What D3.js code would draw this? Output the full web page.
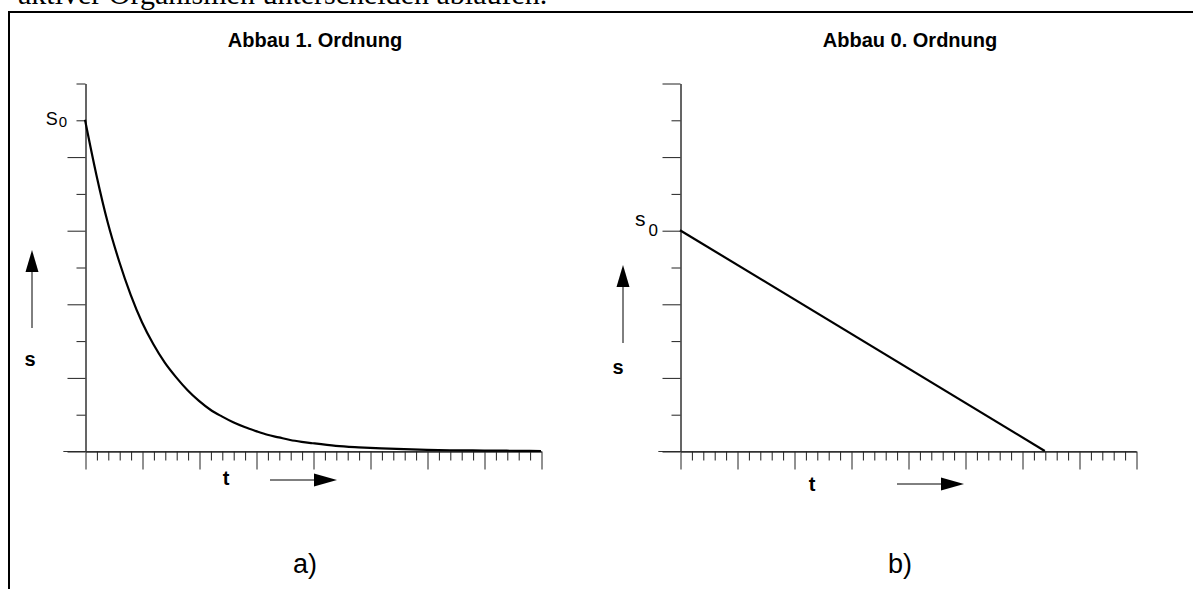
<!DOCTYPE html>
<html>
<head>
<meta charset="utf-8">
<script src="https://cdn.jsdelivr.net/npm/d3@7"></script>
<style>
  html, body { margin: 0; padding: 0; background: #fff; }
  svg { display: block; }
  text { font-family: Arial, "Liberation Sans", sans-serif; fill: #000; }
</style>
</head>
<body>
<svg id="chart" width="1193" height="589"></svg>
<script>
// ---- data ----
// time axis: 40 minor steps, every 5th one is a long tick
var timeTicks = d3.range(0, 41)
var majorTimeTicks = timeTicks.filter(d => d % 5 === 0)
var minorTimeTicks = timeTicks.filter(d => d % 5 !== 0)

// s axis: 10 tick steps
var sTicksLeftLong = [0, 2, 4, 6, 8]
var sTicksLeftShort = [1, 3, 5, 7, 9, 10]
var sTicksRightLong = [0, 2, 4, 6, 8, 10]
var sTicksRightShort = [1, 3, 5, 7, 9]

// a) first order decay, s in tick units (s0 = 9)
var firstOrderT = [0, 1, 2, 3, 4, 5, 6, 7, 8, 9, 10, 11, 12, 13, 14, 15, 16, 17, 18, 19, 20,
                   22, 24, 26, 28, 30, 32, 34, 36, 38, 40]
var firstOrderS = [9.0, 7.5, 6.2, 5.15, 4.25, 3.5, 2.9, 2.4, 2.0, 1.65, 1.36, 1.12, 0.94, 0.78, 0.65, 0.54,
                   0.44, 0.37, 0.30, 0.25, 0.21, 0.14, 0.10, 0.07, 0.05, 0.03, 0.02, 0.015, 0.01, 0.005, 0]

// b) zero order decay (s0 = 6)
var zeroOrderT = [0, 32]
var zeroOrderS = [6, 0]

var titles = ["Abbau 1. Ordnung", "Abbau 0. Ordnung"]
var panelLabels = ["a)", "b)"]

var dims = {
    axisTop: 83,
    axisBottom: 451,
    axisWidth: 456,
    originsX: [85, 680],
    longTick: 18,
    shortTick: 9
}

var svg = d3.select("#chart")

// text line from the page above, cut by the top edge
svg.append("text")
    .attr("x", 18)
    .attr("y", 4)
    .style("font-family", "'Liberation Serif', 'Times New Roman', serif")
    .style("font-size", "30px")
    .text("aktiver Organismen unterscheiden ablaufen.")

// frame
svg.append("path")
    .attr("d", "M9,589 V12 H1193")
    .attr("fill", "none")
    .attr("stroke", "#000")
    .attr("stroke-width", 2)

var yScale = d3.scaleLinear()
        .domain([0, 10])
        .range([dims.axisBottom, dims.axisTop])

function drawPanel(i, tData, sData, s0, longS, shortS, opts) {
    var x0 = dims.originsX[i]
    var xScale = d3.scaleLinear()
            .domain([0, 40])
            .range([x0, x0 + dims.axisWidth])
    var g = svg.append("g")

    // time axis line, reaching a bit left of the origin
    g.append("line")
        .attr("x1", xScale(-1.9)).attr("x2", xScale(40))
        .attr("y1", yScale(0) + 0.5).attr("y2", yScale(0) + 0.5)
        .attr("stroke", "#333")

    var xMajor = d3.axisBottom(xScale).tickValues(majorTimeTicks)
            .tickSize(dims.longTick).tickSizeOuter(0).tickFormat("")
    var xMinor = d3.axisBottom(xScale).tickValues(minorTimeTicks)
            .tickSize(dims.shortTick).tickSizeOuter(0).tickFormat("")
    g.append("g").attr("transform", `translate(0.5,${yScale(0) + 0.5})`).call(xMajor)
    g.append("g").attr("transform", `translate(0.5,${yScale(0) + 0.5})`).call(xMinor)

    var yLong = d3.axisLeft(yScale).tickValues(longS)
            .tickSize(dims.longTick).tickSizeOuter(0).tickFormat("")
    var yShort = d3.axisLeft(yScale).tickValues(shortS)
            .tickSize(dims.shortTick).tickSizeOuter(0).tickFormat("")
    g.append("g").attr("transform", `translate(${x0 + 0.5},0.5)`).call(yLong)
    g.append("g").attr("transform", `translate(${x0 + 0.5},0.5)`).call(yShort)

    g.selectAll(".domain").attr("stroke", "#333")
    g.selectAll(".tick line").attr("stroke", "#222")

    // the curve
    var line = d3.line()
            .x((d, k) => xScale(tData[k]))
            .y(d => yScale(d))
            .curve(d3.curveMonotoneX)
    g.append("path")
        .datum(sData)
        .attr("d", line)
        .attr("fill", "none")
        .attr("stroke", "#000")
        .attr("stroke-width", 2.2)
        .attr("stroke-linejoin", "round")

    // title
    g.append("text")
        .attr("x", x0 + 230)
        .attr("y", 47)
        .attr("text-anchor", "middle")
        .style("font-size", "20px")
        .style("font-weight", "bold")
        .text(titles[i])

    // s0 label
    var s0Label = g.append("text")
        .attr("x", x0 + opts.s0dx)
        .attr("y", yScale(s0) + opts.s0dy)
        .attr("text-anchor", "end")
    s0Label.append("tspan").style("font-size", opts.sSize).text(opts.sChar)
    s0Label.append("tspan")
        .attr("dx", opts.gap)
        .attr("dy", opts.subDy)
        .style("font-size", opts.subSize)
        .text("0")

    // vertical s arrow + label
    var ax = x0 + opts.arrowDx
    g.append("line")
        .attr("x1", ax).attr("x2", ax)
        .attr("y1", opts.arrowY + 22).attr("y2", opts.arrowY + 78)
        .attr("stroke", "#000")
    g.append("path")
        .attr("d", `M${ax},${opts.arrowY} L${ax - 6.5},${opts.arrowY + 22} L${ax + 6.5},${opts.arrowY + 22} Z`)
        .attr("fill", "#000")
    g.append("text")
        .attr("x", x0 + opts.sLabelDx)
        .attr("y", opts.sLabelY)
        .attr("text-anchor", "middle")
        .style("font-size", "20px")
        .style("font-weight", "bold")
        .text("s")

    // t label + horizontal arrow
    g.append("text")
        .attr("x", x0 + opts.tDx)
        .attr("y", opts.tY)
        .attr("text-anchor", "middle")
        .style("font-size", "20px")
        .style("font-weight", "bold")
        .text("t")
    var hy = opts.hArrowY
    var hx = x0 + opts.hArrowDx
    g.append("line")
        .attr("x1", hx).attr("x2", hx + 45)
        .attr("y1", hy).attr("y2", hy)
        .attr("stroke", "#000")
    g.append("path")
        .attr("d", `M${hx + 44},${hy - 6.5} L${hx + 67},${hy} L${hx + 44},${hy + 6.5} Z`)
        .attr("fill", "#000")

    // panel letter
    g.append("text")
        .attr("x", x0 + 220)
        .attr("y", 573)
        .attr("text-anchor", "middle")
        .style("font-size", "27px")
        .text(panelLabels[i])
}

drawPanel(0, firstOrderT, firstOrderS, 9, sTicksLeftLong, sTicksLeftShort, {
    s0dx: -18, s0dy: 5, sChar: "S", sSize: "18px", subSize: "15px", gap: 1, subDy: 2,
    arrowDx: -53, arrowY: 250, sLabelDx: -55, sLabelY: 366,
    tDx: 141, tY: 485, hArrowDx: 185, hArrowY: 480
})
drawPanel(1, zeroOrderT, zeroOrderS, 6, sTicksRightLong, sTicksRightShort, {
    s0dx: -22, s0dy: -4, sChar: "s", sSize: "21px", subSize: "17px", gap: 3, subDy: 10,
    arrowDx: -57, arrowY: 265, sLabelDx: -62, sLabelY: 374,
    tDx: 132, tY: 491, hArrowDx: 217, hArrowY: 484
})
</script>
</body>
</html>
